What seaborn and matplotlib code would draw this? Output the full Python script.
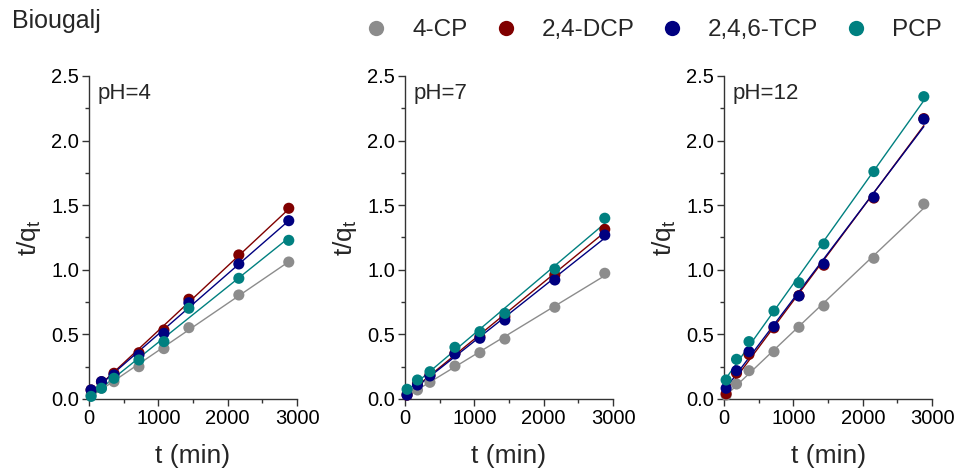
import numpy as np
import pandas as pd
import seaborn as sns
import matplotlib
matplotlib.use("Agg")
import matplotlib.pyplot as plt
from matplotlib.ticker import MultipleLocator
from matplotlib.lines import Line2D

# ---- data ----
times = [30, 180, 360, 720, 1080, 1440, 2160, 2880]
compounds = ["4-CP", "2,4-DCP", "2,4,6-TCP", "PCP"]
colors = ["#8c8c8c", "#800000", "#000080", "#008080"]
panels = ["pH=4", "pH=7", "pH=12"]

ph4_cp   = [0.03, 0.083, 0.134, 0.25, 0.39, 0.552, 0.805, 1.06]
ph4_dcp  = [0.07, 0.134, 0.199, 0.358, 0.534, 0.772, 1.115, 1.476]
ph4_tcp  = [0.07, 0.134, 0.186, 0.34, 0.508, 0.745, 1.045, 1.38]
ph4_pcp  = [0.02, 0.083, 0.16, 0.302, 0.444, 0.702, 0.934, 1.228]

ph7_cp   = [0.04, 0.07, 0.129, 0.255, 0.358, 0.464, 0.71, 0.973]
ph7_dcp  = [0.03, 0.121, 0.186, 0.354, 0.482, 0.637, 0.96, 1.313]
ph7_tcp  = [0.03, 0.108, 0.178, 0.348, 0.47, 0.611, 0.921, 1.269]
ph7_pcp  = [0.075, 0.147, 0.211, 0.40, 0.521, 0.663, 1.006, 1.399]

ph12_cp  = [0.03, 0.116, 0.219, 0.366, 0.555, 0.72, 1.089, 1.509]
ph12_dcp = [0.04, 0.20, 0.345, 0.55, 0.80, 1.035, 1.555, 2.17]
ph12_tcp = [0.083, 0.219, 0.366, 0.56, 0.797, 1.045, 1.561, 2.165]
ph12_pcp = [0.147, 0.307, 0.444, 0.681, 0.90, 1.20, 1.76, 2.34]

series = {
    "pH=4": [ph4_cp, ph4_dcp, ph4_tcp, ph4_pcp],
    "pH=7": [ph7_cp, ph7_dcp, ph7_tcp, ph7_pcp],
    "pH=12": [ph12_cp, ph12_dcp, ph12_tcp, ph12_pcp],
}

rows = []
for p in panels:
    for c, vals in zip(compounds, series[p]):
        for t, v in zip(times, vals):
            rows.append({"panel": p, "compound": c, "t": t, "y": v})
df = pd.DataFrame(rows)

# ---- style ----
sns.set_style("ticks")
plt.rcParams["font.family"] = ["Liberation Sans", "DejaVu Sans"]
plt.rcParams["axes.edgecolor"] = "#333333"
plt.rcParams["xtick.color"] = "#333333"
plt.rcParams["ytick.color"] = "#333333"
plt.rcParams["xtick.labelcolor"] = "black"
plt.rcParams["ytick.labelcolor"] = "black"

fig = plt.figure(figsize=(9.59, 4.71), dpi=100)
lefts = [0.0928, 0.4223, 0.755]
width = 0.2170
bottom = 0.1529
height = 0.6858
palette = dict(zip(compounds, colors))

for left, p in zip(lefts, panels):
    ax = fig.add_axes([left, bottom, width, height])
    sub = df[df["panel"] == p]
    for c in compounds:
        d = sub[sub["compound"] == c]
        sns.regplot(data=d, x="t", y="y", ax=ax, scatter=False, ci=None,
                    truncate=True, color=palette[c],
                    line_kws={"linewidth": 1.0, "zorder": 2})
    for c in compounds:
        d = sub[sub["compound"] == c]
        sns.scatterplot(data=d, x="t", y="y", ax=ax, color=palette[c],
                        s=64, edgecolor="none", zorder=3, clip_on=False,
                        legend=False)
    ax.set_xlim(0, 3000)
    ax.set_ylim(0, 2.5)
    ax.xaxis.set_major_locator(MultipleLocator(1000))
    ax.xaxis.set_minor_locator(MultipleLocator(500))
    ax.yaxis.set_major_locator(MultipleLocator(0.5))
    ax.yaxis.set_minor_locator(MultipleLocator(0.25))
    ax.yaxis.set_major_formatter(matplotlib.ticker.FormatStrFormatter("%.1f"))
    ax.tick_params(which="major", direction="out", length=5, width=1,
                   labelsize=14.5, pad=2)
    ax.tick_params(which="minor", direction="out", length=3, width=1)
    for s in ["top", "right"]:
        ax.spines[s].set_visible(False)
    for s in ["left", "bottom"]:
        ax.spines[s].set_linewidth(1.0)
    ax.set_xlabel("t (min)", fontsize=19, labelpad=12)
    ax.set_ylabel(r"t/q$_\mathregular{t}$", fontsize=19, labelpad=6)
    ax.text(0.04, 0.945, p, transform=ax.transAxes, fontsize=16,
            ha="left", va="center")

fig.text(0.012, 0.955, "Biougalj", fontsize=18, ha="left", va="center")

handles = [Line2D([], [], linestyle="none", marker="o", markersize=11,
                  markerfacecolor=col, markeredgecolor="none")
           for col in colors]
fig.legend(handles, compounds, loc="center", bbox_to_anchor=(0.681, 0.936),
           ncol=4, frameon=False, fontsize=17.5, handletextpad=0.97,
           columnspacing=1.07, handlelength=1.0)

fig.savefig("out.png", dpi=100)
